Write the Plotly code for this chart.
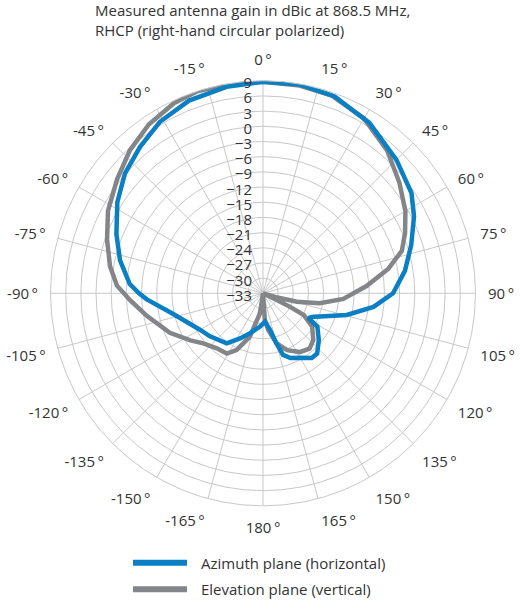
import plotly.graph_objects as go

# ---- data ----
azimuth_theta = [0, 10, 20, 32, 45, 56, 63, 72, 81, 90, 97, 104.5, 112, 115, 118.5,
                 121.5, 130, 138, 143, 150, 157, 162, 165, 169, 176,
                 -175, -162, -153, -144, -129, -120, -103, -93, -90, -86, -77,
                 -68, -58, -49, -40, -31, -21, -10, 0]
azimuth_gain = [8.8, 8.9, 8.4, 6.7, 4.3, 2.4, 0.5, -2.2, -4.6, -7.3, -11.0, -15.9, -20.8, -22.0, -22.8,
                -20.4, -18.6, -17.0, -17.0, -18.3, -19.1, -20.2, -22.8, -25.6, -27.4,
                -26.4, -24.7, -23.0, -20.8, -19.5, -18.6, -14.8, -10.0, -8.5, -6.6, -4.0,
                -1.75, 0.95, 3.15, 4.8, 6.55, 7.8, 8.45, 8.8]

elevation_theta = [0, 10, 19, 30, 41, 51, 60, 67, 73, 79, 86, 94, 100, 104, 107, 110,
                   116, 116.5, 118, 124, 133, 140, 148, 157, 165, 172, 176, 180,
                   -171.5, -163, -155, -149, -140, -130, -123, -113, -101, -93, -87,
                   -80, -71, -62, -52, -43, -34, -25, -18, -10, 0]
elevation_gain = [8.8, 8.7, 8.4, 6.9, 4.4, 1.7, -0.5, -2.5, -4.3, -7.8, -12.5, -17.1, -21.6, -26.1, -30.5, -33,
                  -30, -27, -23.9, -21.3, -19.4, -18.7, -19.3, -20.8, -22.8, -25.7, -27.7, -33,
                  -29.0, -24.0, -20.6, -19.1, -18.8, -17.6, -15.9, -13.0, -9.6, -6.7, -4.1,
                  -2.3, -0.4, 1.7, 3.6, 5.6, 7.3, 8.5, 9.0, 8.9, 8.8]

angle_ticks = list(range(0, 360, 15))
angle_labels = [f"{a if a <= 180 else a - 360}\u2009°" for a in angle_ticks]
radial_ticks = list(range(-33, 10, 3))
radial_range = [-33, 9]

series_names = ["Azimuth plane (horizontal)", "Elevation plane (vertical)"]
series_colors = ["#0a7fc3", "#848588"]

W, H = 522, 600
FONT = "Open Sans"
TXT = "#333333"
GRID = "#c8c8c8"

fig = go.Figure()
fig.add_trace(go.Scatterpolar(theta=elevation_theta, r=elevation_gain, mode="lines",
                              line=dict(color=series_colors[1], width=4.5),
                              name=series_names[1], showlegend=False))
fig.add_trace(go.Scatterpolar(theta=azimuth_theta, r=azimuth_gain, mode="lines",
                              line=dict(color=series_colors[0], width=4.5),
                              name=series_names[0], showlegend=False))

cx, cy, R = 263, 293.3, 212.5
fig.update_layout(
    width=W, height=H,
    margin=dict(l=0, r=0, t=0, b=0),
    paper_bgcolor="white", plot_bgcolor="white",
    font=dict(family=FONT, size=15, color=TXT),
    polar=dict(
        domain=dict(x=[(cx - R) / W, (cx + R) / W], y=[1 - (cy + R) / H, 1 - (cy - R) / H]),
        bgcolor="white",
        angularaxis=dict(rotation=90, direction="clockwise", tickmode="array",
                         tickvals=angle_ticks, ticktext=angle_labels,
                         showline=True, linecolor=GRID, linewidth=1,
                         gridcolor=GRID, gridwidth=1,
                         ticks="outside", ticklen=9, tickcolor="rgba(0,0,0,0)",
                         tickfont=dict(family=FONT, size=15, color=TXT)),
        radialaxis=dict(range=radial_range, tickmode="array", tickvals=radial_ticks,
                        angle=90, side="counterclockwise", showline=False,
                        gridcolor=GRID, gridwidth=1, ticks="",
                        tickfont=dict(family=FONT, size=15, color=TXT)),
    ),
)

fig.add_annotation(xref="paper", yref="paper", x=93 / W, y=1,
                   xanchor="left", yanchor="top", align="left", showarrow=False, yshift=2,
                   text="Measured antenna gain in dBic at 868.5 MHz,<br>RHCP (right-hand circular polarized)",
                   font=dict(family=FONT, size=15, color=TXT))

legend_y = [562.7, 589.3]
for name, col, ly in zip(series_names, series_colors, legend_y):
    fig.add_shape(type="line", xref="paper", yref="paper",
                  x0=133 / W, x1=187 / W, y0=1 - ly / H, y1=1 - ly / H,
                  line=dict(color=col, width=6))
    fig.add_annotation(xref="paper", yref="paper", x=199 / W, y=1 - ly / H,
                       xanchor="left", yanchor="middle", showarrow=False,
                       text=name, font=dict(family=FONT, size=15, color=TXT))

fig.write_html("out.html", config={"displayModeBar": False},
               post_script="document.body.style.margin='0';document.body.style.overflow='hidden';")
